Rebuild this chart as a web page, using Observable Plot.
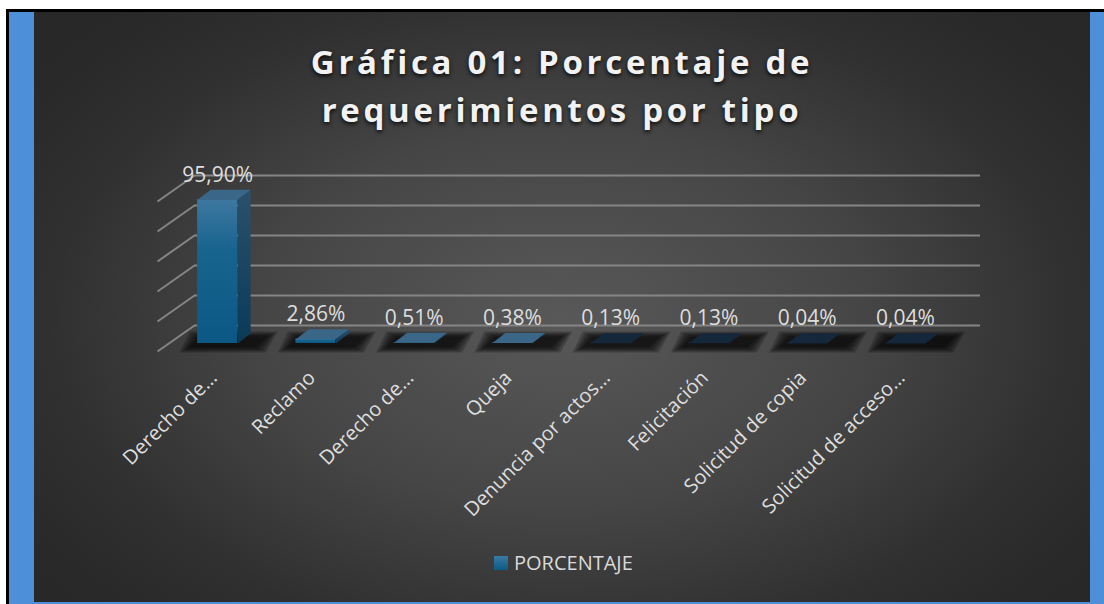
<!DOCTYPE html>
<html><head><meta charset="utf-8">
<script src="https://cdn.jsdelivr.net/npm/d3@7"></script>
<script src="https://cdn.jsdelivr.net/npm/@observablehq/plot@0.6"></script>
<style>
html,body{margin:0;padding:0;background:#fff;width:1104px;height:604px;overflow:hidden;position:relative}
#frame{position:absolute;left:6px;top:9px;width:1098px;height:595px;background:#000}
#blue{position:absolute;left:9px;top:12px;width:1095px;height:592px;background:#4d8fd8}
#panel{position:absolute;left:34px;top:12px;width:1056px;height:590px;overflow:hidden;
  background:radial-gradient(ellipse 62% 70% at 50% 52%, #585858 0%, #464646 45%, #2f2f2f 80%, #282828 100%)}
#title{position:absolute;left:0;top:26px;width:100%;text-align:center;color:#f2f2f2;
  font-family:"Open Sans",sans-serif;font-weight:700;font-size:33px;line-height:48px;letter-spacing:3.7px;
  text-shadow:0 2px 4px rgba(0,0,0,0.85)}
#chart{position:absolute;left:0;top:0}
#legend{position:absolute;left:460px;top:541px;height:20px;display:flex;align-items:center;
  font-family:"Open Sans",sans-serif;font-size:20px;line-height:20px;color:#d9d9d9}
#legend .sw{width:14px;height:14px;margin-right:6px;background:linear-gradient(#3a7aa3,#0c5a85)}
</style></head>
<body>
<div id="frame"></div>
<div id="blue"></div>
<div id="panel">
  <div id="chart"></div>
  <div id="title">Gráfica 01: Porcentaje de<br>requerimientos por tipo</div>
  <div id="legend"><div class="sw"></div><span>PORCENTAJE</span></div>
</div>
<script>
const categories = ["Derecho de…","Reclamo","Derecho de…","Queja","Denuncia por actos…","Felicitación","Solicitud de copia","Solicitud de acceso…"];
const values = [95.90, 2.86, 0.51, 0.38, 0.13, 0.13, 0.04, 0.04];
const gridValues = [0, 20, 40, 60, 80, 100];
const seriesName = "PORCENTAJE";

const W = 1056, H = 590, mL = 134, mR = 136, mT = 181, mB = 259;
const kx = (W - mL - mR) / categories.length, ky = (H - mT - mB) / 100;
const ux = p => p / kx, uy = p => p / ky;
const half = ux(20);
const bar = {dx: ux(13), dy: uy(10)};
const wall = {dx: ux(26), dy: uy(18)};
const front = {dx: ux(-11), dy: uy(-8)};

const data = categories.map((c, i) => ({i, c, v: values[i]}));
const fmt = v => v.toFixed(2).replace(".", ",") + "%";
// top face: lit when the column has some height, dark when nearly flat
const topShade = v => v >= 0.3 ? "#3a6687" : "#15273a";

const side = data.flatMap(d => [
  {id: d.i, x: d.i + half, y: 0},
  {id: d.i, x: d.i + half + bar.dx, y: bar.dy},
  {id: d.i, x: d.i + half + bar.dx, y: d.v + bar.dy},
  {id: d.i, x: d.i + half, y: d.v}]);
const topFace = data.flatMap(d => [
  {id: d.i, c: topShade(d.v), x: d.i - half, y: d.v},
  {id: d.i, c: topShade(d.v), x: d.i + half, y: d.v},
  {id: d.i, c: topShade(d.v), x: d.i + half + bar.dx, y: d.v + bar.dy},
  {id: d.i, c: topShade(d.v), x: d.i - half + bar.dx, y: d.v + bar.dy}]);
// soft floor shadow: several nested translucent layers
const shadowLayers = [0, 1, 2, 3, 4];
const shadow = data.flatMap(d => shadowLayers.flatMap(k => {
  const g = 2.5 * (4 - k);
  const id = d.i * 10 + k;
  return [
    {id, x: d.i - half - ux(8 + g), y: uy(-4 - g * 0.5)},
    {id, x: d.i + half + ux(18 + g), y: uy(-4 - g * 0.5)},
    {id, x: d.i + half + ux(30 + g), y: uy(7 + g * 0.5)},
    {id, x: d.i - half + ux(2 - g), y: uy(7 + g * 0.5)}];
}));

const fontFamily = "'Open Sans', sans-serif";
const svg = Plot.plot({
  width: W, height: H,
  marginLeft: mL, marginRight: mR, marginTop: mT, marginBottom: mB,
  x: {type: "linear", domain: [-0.5, categories.length - 0.5], axis: null},
  y: {domain: [0, 100], axis: null},
  color: {type: "identity"},
  style: {background: "transparent", overflow: "visible"},
  marks: [
    Plot.ruleY(gridValues, {y: d => d + wall.dy, x1: () => -0.5 + wall.dx, x2: () => categories.length - 0.5 + wall.dx,
      stroke: "#858585", strokeWidth: 2}),
    Plot.link(gridValues, {x1: () => -0.5 + front.dx, y1: d => d + front.dy, x2: () => -0.5 + wall.dx, y2: d => d + wall.dy,
      stroke: "#858585", strokeWidth: 2}),
    Plot.line(shadow, {x: "x", y: "y", z: "id", fill: "black", fillOpacity: 0.22, stroke: "none"}),
    Plot.line(side, {x: "x", y: "y", z: "id", fill: "url(#sideGrad)", stroke: "none"}),
    Plot.rect(data, {x1: d => d.i - half, x2: d => d.i + half, y1: 0, y2: "v", fill: "url(#frontGrad)"}),
    Plot.line(topFace, {x: "x", y: "y", z: "id", fill: "c", stroke: "none"}),
    Plot.text(data, {x: "i", y: d => d.v + bar.dy, text: d => fmt(d.v), dy: -8, lineAnchor: "bottom",
      fill: "#dedede", fontSize: 21, fontFamily}),
    Plot.text(data, {x: "i", y: () => 0, text: "c", rotate: -45, textAnchor: "end", lineAnchor: "middle",
      dx: -4, dy: 31, fill: "#dedede", fontSize: 20, fontFamily})
  ]
});
const s = d3.select(svg);
const defs = s.insert("defs", ":first-child");
const fg = defs.append("linearGradient").attr("id", "frontGrad").attr("x1", 0).attr("y1", 0).attr("x2", 0).attr("y2", 1);
fg.append("stop").attr("offset", "0%").attr("stop-color", "#3e78a0");
fg.append("stop").attr("offset", "35%").attr("stop-color", "#17648f");
fg.append("stop").attr("offset", "100%").attr("stop-color", "#0b5884");
const sg = defs.append("linearGradient").attr("id", "sideGrad").attr("x1", 0).attr("y1", 0).attr("x2", 0).attr("y2", 1);
sg.append("stop").attr("offset", "0%").attr("stop-color", "#2c506b");
sg.append("stop").attr("offset", "100%").attr("stop-color", "#0b3a57");
document.getElementById("chart").appendChild(svg);
document.querySelector("#legend span").textContent = seriesName;
</script>
</body></html>
